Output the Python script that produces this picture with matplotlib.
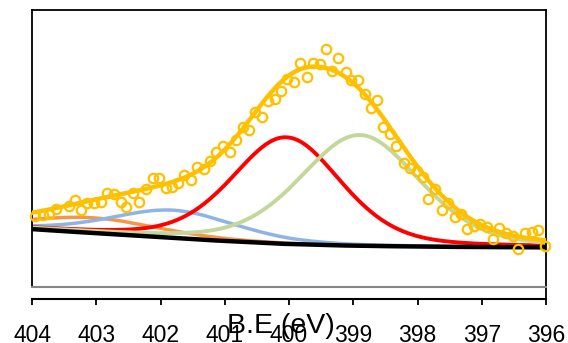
import numpy as np
import matplotlib
matplotlib.use("Agg")
import matplotlib.pyplot as plt

plt.rcParams['font.family'] = ['Liberation Sans', 'DejaVu Sans']

# measured points (binding energy in eV, intensity in arbitrary units)
be_data = [403.95, 403.83, 403.74, 403.63, 403.43, 403.33, 403.23, 403.14, 403.04, 402.93,
           402.83, 402.72, 402.62, 402.53, 402.43, 402.33, 402.23, 402.12, 402.02, 401.91,
           401.82, 401.72, 401.63, 401.53, 401.43, 401.33, 401.23, 401.13, 401.03, 400.92,
           400.83, 400.72, 400.63, 400.53, 400.42, 400.32, 400.22, 400.12, 400.03, 399.92,
           399.83, 399.72, 399.63, 399.52, 399.42, 399.33, 399.23, 399.12, 399.04, 398.92,
           398.82, 398.73, 398.63, 398.53, 398.43, 398.34, 398.21, 398.11, 398.01, 397.91,
           397.83, 397.72, 397.62, 397.52, 397.42, 397.32, 397.23, 397.12, 397.03, 396.92,
           396.83, 396.73, 396.62, 396.52, 396.43, 396.32, 396.22, 396.12, 396.02]
int_data = [25.6, 26.0, 26.5, 28.2, 29.1, 31.4, 27.8, 30.4, 30.3, 30.6,
            34.0, 33.4, 30.8, 29.0, 33.8, 30.8, 35.4, 39.4, 39.4, 35.9,
            36.2, 37.7, 40.6, 38.8, 43.3, 42.7, 45.4, 48.6, 50.9, 48.8,
            53.1, 57.7, 56.6, 63.3, 61.4, 67.1, 67.7, 70.8, 75.2, 73.9,
            81.0, 75.8, 80.8, 80.4, 86.0, 78.1, 82.6, 77.6, 74.9, 74.9,
            69.6, 64.6, 67.5, 57.9, 55.3, 50.9, 44.7, 43.1, 41.8, 39.7,
            31.7, 35.5, 27.7, 30.3, 25.2, 26.2, 21.0, 22.0, 22.9, 21.5,
            17.4, 21.4, 19.4, 18.4, 13.8, 19.4, 20.0, 20.4, 14.8]

# background read at each whole eV
be_bg = [404, 403, 402, 401, 400, 399, 398, 397, 396]
int_bg = [20.9, 19.4, 18.0, 16.6, 15.5, 14.9, 14.6, 14.4, 14.3]

# fitted components: centre, height above background, FWHM
peak_center = [403.05, 401.8, 400.04, 398.9]
peak_height = [5.5, 10.0, 38.5, 40.0]
peak_fwhm = [2.4, 2.3, 2.0, 2.2]
peak_colors = ['#F79646', '#8EB4E3', '#FF0000', '#C4D79B']
peak_lw = [2.5, 2.5, 2.8, 2.8]
lorentz_frac = 0.3

tick_vals = [404, 403, 402, 401, 400, 399, 398, 397, 396]

x = np.linspace(396, 404, 801)
bg = np.interp(x, be_bg[::-1], int_bg[::-1])


def gl(x, c, h, w):
    d2 = 4 * (x - c) ** 2 / w ** 2
    return h * ((1 - lorentz_frac) * np.exp(-np.log(2) * d2) + lorentz_frac / (1 + d2))


fig = plt.figure(figsize=(5.68, 3.43), dpi=100)
ax = fig.add_axes([32 / 568, 56 / 343, 514 / 568, 277 / 343])

total = bg.copy()
for c, h, w, col, lw in zip(peak_center, peak_height, peak_fwhm, peak_colors, peak_lw):
    comp = gl(x, c, h, w)
    total += comp
    ax.plot(x, bg + comp, color=col, lw=lw, zorder=2)

ax.plot(x, bg, color='black', lw=3.2, zorder=3)
ax.plot(x, total, color='#FFC000', lw=3.2, zorder=4)
ax.plot(be_data, int_data, 'o', mfc='none', mec='#FFC000', ms=6.8, mew=1.6, zorder=5, clip_on=False)

ax.set_xlim(404, 396)
ax.set_ylim(0, 100)
ax.set_yticks([])
ax.set_xticks([])
for s in ['left', 'top', 'right']:
    ax.spines[s].set_linewidth(1.3)
    ax.spines[s].set_color('black')
ax.spines['bottom'].set_color('#868686')
ax.spines['bottom'].set_linewidth(1.5)

off = -12 / 277
sec = ax.secondary_xaxis(off)
sec.set_xticks(tick_vals)
sec.set_xticklabels([str(t) for t in tick_vals])
sec.spines['bottom'].set_linewidth(1.5)
sec.tick_params(axis='x', direction='out', length=4.3, width=1.3, labelsize=16.5, pad=13.5)
ax.plot([1, 1], [0, off], color='black', lw=1.3, transform=ax.transAxes, clip_on=False)

fig.text(281 / 568, 1 - 333 / 343, 'B.E (eV)', ha='center', va='baseline', fontsize=20.5)

fig.savefig('out.png', dpi=100)
